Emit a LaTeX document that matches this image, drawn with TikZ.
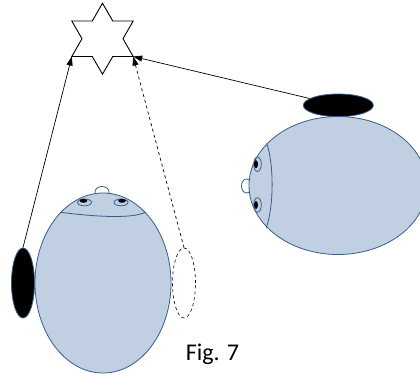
\documentclass[tikz,border=0pt]{standalone}
\usepackage{fontspec}
\setmainfont{Carlito}
\usetikzlibrary{shapes.geometric,arrows.meta}
\definecolor{headfill}{RGB}{192,207,226}
\definecolor{headline}{RGB}{56,93,138}
\tikzset{
  head/.style={ellipse, draw=headline, fill=headfill, line width=0.8pt, inner sep=0pt},
  blackear/.style={ellipse, draw=headline, fill=black, line width=0.8pt, inner sep=0pt},
  ghostear/.style={ellipse, draw=black, fill=white, dashed, line width=0.6pt, inner sep=0pt},
  feature/.style={draw=headline, line width=0.8pt},
  pupil/.style={fill=black},
  ray/.style={draw=black, line width=0.7pt, -{Triangle[length=9pt,width=6pt]}},
  starline/.style={draw=black, line width=0.9pt, line join=miter}
}
\begin{document}
\begin{tikzpicture}[x=1pt,y=-1pt]
\useasboundingbox (0,0) rectangle (420,375);
\clip (0,0) rectangle (420,375);
% noses (drawn first, partly hidden by heads)
\draw[feature] (102,192) ellipse [x radius=7, y radius=5.5];
\draw[feature] (246.5,186) ellipse [x radius=5, y radius=7];
% heads
\node[head, minimum width=136pt, minimum height=180pt] (h1) at (103,283) {};
\node[head, minimum width=178pt, minimum height=138pt] (h2) at (338,185.5) {};
% forehead lines
\draw[feature] (60.5,212.3) .. controls (90,216) and (130,219.5) .. (145.5,212.3);
\draw[feature] (266.7,143) .. controls (274,165) and (274,205) .. (266.3,228);
% eyes, left head
\draw[feature] (84.5,202.4) ellipse [x radius=7, y radius=3.4];
\fill[pupil] (83.5,200.8) ellipse [x radius=3.8, y radius=2];
\draw[feature] (121,202.4) ellipse [x radius=7, y radius=3.4];
\fill[pupil] (122,200.8) ellipse [x radius=3.8, y radius=2];
% eyes, right head
\draw[feature] (257.5,164.2) ellipse [x radius=3.8, y radius=7.3];
\fill[pupil] (256,164.2) ellipse [x radius=2, y radius=4];
\draw[feature] (257.5,205) ellipse [x radius=3.8, y radius=7.3];
\fill[pupil] (256,205) ellipse [x radius=2, y radius=4];
% ears / sources
\node[blackear, minimum width=23pt, minimum height=70pt] (lb) at (23,283) {};
\node[ghostear, minimum width=23pt, minimum height=70pt] (wd) at (184,283) {};
\node[blackear, minimum width=70pt, minimum height=22.6pt] (rb) at (338.3,105.3) {};
% star
\coordinate (sL) at (71.8,56.5);
\coordinate (sR) at (133.2,56.5);
\draw[starline] (102.5,3.2) -- (112.75,21) -- (133.2,21) -- (123,38.7) -- (sR)
  -- (112.75,56.5) -- (102.5,74.2) -- (92.25,56.5) -- (sL) -- (82,38.7)
  -- (71.8,21) -- (92.25,21) -- cycle;
% rays
\draw[ray] (lb.north) -- (sL);
\draw[ray, dashed] (wd.north) -- (sR);
\draw[ray] (rb) -- (sR);
% caption
\node[font=\fontsize{24}{28}\selectfont, inner sep=0pt] (cap) at (212.5,354) {Fig. 7};
\end{tikzpicture}
\end{document}
